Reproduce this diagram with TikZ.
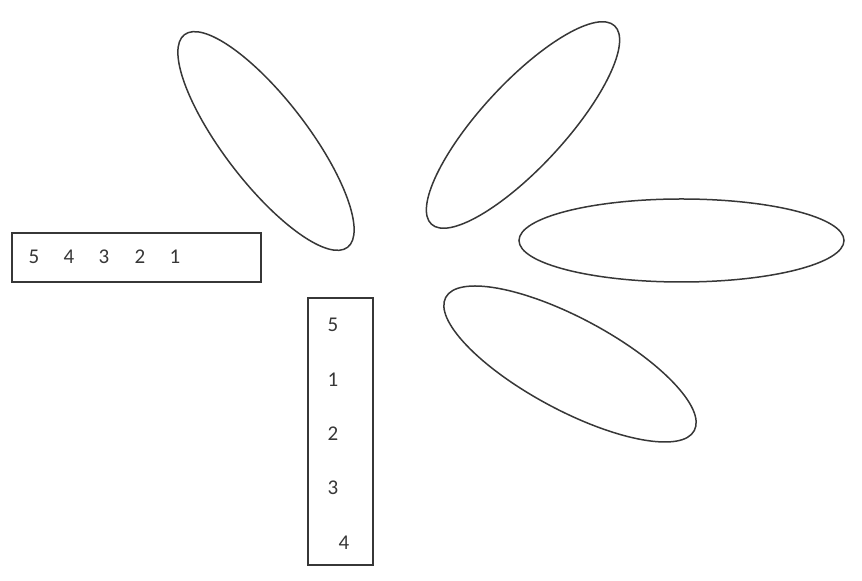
\documentclass[tikz,border=0pt]{standalone}
\usepackage{fontspec}
\setmainfont{Carlito}
\usetikzlibrary{shapes.geometric}
\definecolor{inkGray}{RGB}{55,55,55}
\tikzset{
    petal/.style={ellipse,draw=inkGray,line width=0.75pt,inner sep=0pt},
    tray/.style={rectangle,draw=inkGray,line width=0.8pt,inner sep=0pt},
    digit/.style={font=\fontsize{10.5}{12}\selectfont,text=inkGray,inner sep=0pt}
}
\begin{document}
\begin{tikzpicture}[x=0.5pt,y=-0.5pt]
    \useasboundingbox (0,0) rectangle (862,581);
    % petals round the centre
    \node[petal,minimum width=134pt,minimum height=42pt,rotate=-52.5] (leftPetal)  at (266,141) {};
    \node[petal,minimum width=135pt,minimum height=42pt,rotate=47.3]  (upPetal)    at (523,125) {};
    \node[petal,minimum width=162.5pt,minimum height=41.5pt]          (rightPetal) at (681.5,240.5) {};
    \node[petal,minimum width=141pt,minimum height=46pt,rotate=-28.2] (lowPetal)   at (570,364) {};

    % horizontal tray
    \node[tray,minimum width=124.5pt,minimum height=24.5pt] (rowTray) at (136.5,257.5) {};
    \node[digit] (r5) at (34,257) {5};
    \node[digit] (r4) at (69,257) {4};
    \node[digit] (r3) at (104,257) {3};
    \node[digit] (r2) at (140,257) {2};
    \node[digit] (r1) at (175,257) {1};

    % vertical tray
    \node[tray,minimum width=32.5pt,minimum height=133.5pt] (colTray) at (340.5,431.5) {};
    \node[digit] (c5) at (333,325) {5};
    \node[digit] (c1) at (333,380) {1};
    \node[digit] (c2) at (333,434) {2};
    \node[digit] (c3) at (333,488) {3};
    \node[digit] (c4) at (344,543) {4};
\end{tikzpicture}
\end{document}
